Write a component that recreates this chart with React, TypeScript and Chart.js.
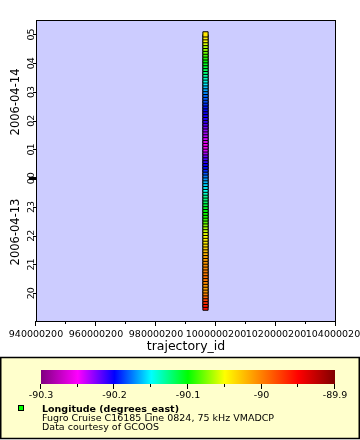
import React, { useEffect, useRef } from "react";
import { Chart, registerables } from "chart.js";
Chart.register(...registerables);

// ---- data ----
const TRAJECTORY_ID = 996500200;
const TIMES = [
  "19:30","19:36","19:42","19:48","19:54",
  "20:00","20:06","20:12","20:18","20:24","20:30","20:36","20:42","20:48","20:54",
  "21:00","21:06","21:12","21:18","21:24","21:30","21:36","21:42","21:48","21:54",
  "22:00","22:06","22:12","22:18","22:24","22:30","22:36","22:42","22:48","22:54",
  "23:00","23:06","23:12","23:18","23:24","23:30","23:36","23:42","23:48","23:54",
  "00:00","00:06","00:12","00:18","00:24","00:30","00:36","00:42","00:48","00:54",
  "01:00","01:06","01:12","01:18","01:24","01:30","01:36","01:42","01:48","01:54",
  "02:00","02:06","02:12","02:18","02:24","02:30","02:36","02:42","02:48","02:54",
  "03:00","03:06","03:12","03:18","03:24","03:30","03:36","03:42","03:48","03:54",
  "04:00","04:06","04:12","04:18","04:24","04:30","04:36","04:42","04:48","04:54",
  "05:00",
];
const LONGITUDE = [
  -89.955, -89.96, -89.967, -89.975, -89.99,
  -90.0, -90.01, -90.013, -90.01, -90.003, -89.997, -89.995, -89.998, -90.0, -90.004,
  -90.006, -90.009, -90.012, -90.015, -90.02, -90.026, -90.032, -90.038, -90.044, -90.047,
  -90.05, -90.055, -90.061, -90.067, -90.074, -90.083, -90.09, -90.095, -90.098, -90.102,
  -90.107, -90.113, -90.119, -90.125, -90.13, -90.139, -90.147, -90.152, -90.158, -90.164,
  -90.17, -90.176, -90.184, -90.192, -90.198, -90.203, -90.209, -90.215, -90.221, -90.233,
  -90.242, -90.248, -90.248, -90.245, -90.24, -90.234, -90.232, -90.228, -90.222, -90.216,
  -90.21, -90.207, -90.204, -90.202, -90.199, -90.196, -90.191, -90.185, -90.182, -90.179,
  -90.173, -90.167, -90.162, -90.154, -90.145, -90.139, -90.133, -90.124, -90.117, -90.111,
  -90.106, -90.1, -90.094, -90.088, -90.079, -90.072, -90.066, -90.058, -90.05, -90.044,
  -90.04,
];
const X_MIN = 940000200;
const X_MAX = 1040000200;
const X_MAJOR_TICKS = [940000200, 960000200, 980000200, 1000000200, 1020000200, 1040000200];
const X_MINOR_TICKS = [950000200, 970000200, 990000200, 1010000200, 1030000200];
const X_TITLE = "trajectory_id";
const Y_MIN_HOURS = -5; // 2006-04-13 19:00
const Y_MAX_HOURS = 5.5; // 2006-04-14 05:30
const Y_TICK_HOURS = [-4, -3, -2, -1, 0, 1, 2, 3, 4, 5];
const Y_TICK_LABELS = ["20", "21", "22", "23", "00", "01", "02", "03", "04", "05"];
const DATE_LABELS = ["2006-04-13", "2006-04-14"];
const DATE_LABEL_HOURS = [-1.87, 2.65];
const LON_MIN = -90.3;
const LON_MAX = -89.9;
const CB_TICKS = [-90.3, -90.2, -90.1, -90.0, -89.9];
const CB_TICK_LABELS = ["-90.3", "-90.2", "-90.1", "-90", "-89.9"];
const CB_MINOR_TICKS = [-90.25, -90.15, -90.05, -89.95];
const PALETTE = [
  [128, 0, 128], [255, 0, 255], [0, 0, 255], [0, 255, 255], [0, 255, 0],
  [255, 255, 0], [255, 128, 0], [255, 0, 0], [128, 0, 0],
];
const LEGEND_TITLE = "Longitude (degrees_east)";
const LEGEND_LINES = ["Fugro Cruise C16185 Line 0824, 75 kHz VMADCP", "Data courtesy of GCOOS"];

const FONT = "'DejaVu Sans'";

function toHours(t: string): number {
  const [h, m] = t.split(":").map(Number);
  const v = h + m / 60;
  return h >= 12 ? v - 24 : v;
}

function colorFor(v: number): string {
  let f = (v - LON_MIN) / (LON_MAX - LON_MIN);
  f = Math.max(0, Math.min(1, f));
  const seg = f * (PALETTE.length - 1);
  const i = Math.min(PALETTE.length - 2, Math.floor(seg));
  const t = seg - i;
  const a = PALETTE[i], b = PALETTE[i + 1];
  const c = a.map((x, k) => Math.round(x + (b[k] - x) * t));
  return `rgb(${c[0]},${c[1]},${c[2]})`;
}

const CB = { left: 41, right: 335, top: 370, bottom: 384 };

const erddapPlugin = {
  id: "erddapDecor",
  beforeDraw(chart: any) {
    const { ctx, chartArea: a } = chart;
    ctx.save();
    ctx.fillStyle = "#ffffff";
    ctx.fillRect(0, 0, chart.width, chart.height);
    ctx.fillStyle = "#ccccff";
    ctx.fillRect(a.left, a.top, a.right - a.left, a.bottom - a.top);
    ctx.restore();
  },
  afterDraw(chart: any) {
    const { ctx, chartArea: a } = chart;
    const xs = chart.scales.x;
    const ys = chart.scales.y;
    ctx.save();
    ctx.strokeStyle = "#000";
    ctx.fillStyle = "#000";
    ctx.lineWidth = 1;
    // plot border
    ctx.strokeRect(a.left + 0.5, a.top + 0.5, a.right - a.left - 1, a.bottom - a.top - 1);

    // x ticks
    const bottom = a.bottom - 1;
    ctx.beginPath();
    X_MAJOR_TICKS.forEach((v) => {
      const px = Math.round(xs.getPixelForValue(v)) - 0.5;
      ctx.moveTo(px, bottom);
      ctx.lineTo(px, bottom + 5);
    });
    X_MINOR_TICKS.forEach((v) => {
      const px = Math.round(xs.getPixelForValue(v)) - 0.5;
      ctx.moveTo(px, bottom);
      ctx.lineTo(px, bottom + 3);
    });
    ctx.stroke();
    ctx.font = `9.5px ${FONT}`;
    ctx.textAlign = "center";
    ctx.textBaseline = "alphabetic";
    X_MAJOR_TICKS.forEach((v) => {
      ctx.fillText(String(v), xs.getPixelForValue(v), 337);
    });
    ctx.font = `12.5px ${FONT}`;
    ctx.fillText(X_TITLE, (a.left + a.right) / 2, 350);

    // y ticks
    const left = a.left;
    ctx.beginPath();
    Y_TICK_HOURS.forEach((h) => {
      const py = Math.round(ys.getPixelForValue(h)) + 0.5;
      ctx.moveTo(left - 3, py);
      ctx.lineTo(left + 1, py);
    });
    ctx.stroke();
    // day boundary tick
    const p0 = ys.getPixelForValue(0);
    ctx.fillRect(left - 7, Math.round(p0) - 1, 8, 3);
    ctx.font = `9.5px ${FONT}`;
    Y_TICK_HOURS.forEach((h, i) => {
      const py = ys.getPixelForValue(h);
      ctx.save();
      ctx.translate(34, py);
      ctx.rotate(-Math.PI / 2);
      ctx.textAlign = "center";
      ctx.fillText(Y_TICK_LABELS[i], 0, 0);
      ctx.restore();
    });
    ctx.font = `11.5px ${FONT}`;
    DATE_LABELS.forEach((lab, i) => {
      const py = ys.getPixelForValue(DATE_LABEL_HOURS[i]);
      ctx.save();
      ctx.translate(18.5, py);
      ctx.rotate(-Math.PI / 2);
      ctx.textAlign = "center";
      ctx.fillText(lab, 0, 0);
      ctx.restore();
    });

    // legend box
    ctx.fillStyle = "#ffffcc";
    ctx.fillRect(1, 357, 358, 81);
    ctx.lineWidth = 1.5;
    ctx.strokeStyle = "#000";
    ctx.strokeRect(0.75, 357.5, 358.5, 81);
    ctx.lineWidth = 1;

    // colorbar
    const grad = ctx.createLinearGradient(CB.left, 0, CB.right, 0);
    PALETTE.forEach((c, i) => {
      grad.addColorStop(i / (PALETTE.length - 1), `rgb(${c[0]},${c[1]},${c[2]})`);
    });
    ctx.fillStyle = grad;
    ctx.fillRect(CB.left, CB.top, CB.right - CB.left, CB.bottom - CB.top);
    const cbx = (v: number) => CB.left + ((v - LON_MIN) / (LON_MAX - LON_MIN)) * (CB.right - CB.left);
    ctx.beginPath();
    CB_TICKS.forEach((v) => {
      const px = Math.round(cbx(v)) - 0.5;
      ctx.moveTo(px, CB.bottom);
      ctx.lineTo(px, CB.bottom + 5);
    });
    CB_MINOR_TICKS.forEach((v) => {
      const px = Math.round(cbx(v)) - 0.5;
      ctx.moveTo(px, CB.bottom);
      ctx.lineTo(px, CB.bottom + 3);
    });
    ctx.stroke();
    ctx.fillStyle = "#000";
    ctx.font = `9.5px ${FONT}`;
    ctx.textAlign = "center";
    CB_TICKS.forEach((v, i) => ctx.fillText(CB_TICK_LABELS[i], cbx(v), 397.5));

    // legend marker + text
    ctx.fillStyle = "#00ff00";
    ctx.fillRect(18, 405, 5, 5);
    ctx.strokeRect(18.5, 405.5, 5, 5);
    ctx.fillStyle = "#000";
    ctx.textAlign = "left";
    ctx.font = `bold 9.5px ${FONT}`;
    ctx.fillText(LEGEND_TITLE, 42, 411.5);
    ctx.font = `9.5px ${FONT}`;
    LEGEND_LINES.forEach((l, i) => ctx.fillText(l, 42, 420.5 + i * 9));
    ctx.restore();
  },
};

export default function App() {
  const ref = useRef<HTMLCanvasElement | null>(null);
  useEffect(() => {
    document.body.style.margin = "0";
    const canvas = ref.current;
    if (!canvas) return;
    const chart = new Chart(canvas, {
      type: "scatter",
      data: {
        datasets: [
          {
            label: LEGEND_TITLE,
            data: TIMES.map((t) => ({ x: TRAJECTORY_ID, y: toHours(t) })),
            pointStyle: "rect",
            pointRadius: 3.7,
            pointHoverRadius: 3.7,
            pointBackgroundColor: LONGITUDE.map(colorFor),
            pointBorderColor: "#000",
            pointBorderWidth: 1,
          },
        ],
      },
      options: {
        animation: false,
        responsive: false,
        devicePixelRatio: 1,
        layout: { padding: { left: 36, right: 24, top: 20, bottom: 118 } },
        scales: {
          x: { type: "linear", min: X_MIN, max: X_MAX, display: false },
          y: { type: "linear", min: Y_MIN_HOURS, max: Y_MAX_HOURS, display: false },
        },
        plugins: { legend: { display: false }, tooltip: { enabled: false } },
        events: [],
      },
      plugins: [erddapPlugin],
    });
    return () => chart.destroy();
  }, []);
  return <canvas ref={ref} width={360} height={440} style={{ display: "block" }} />;
}
